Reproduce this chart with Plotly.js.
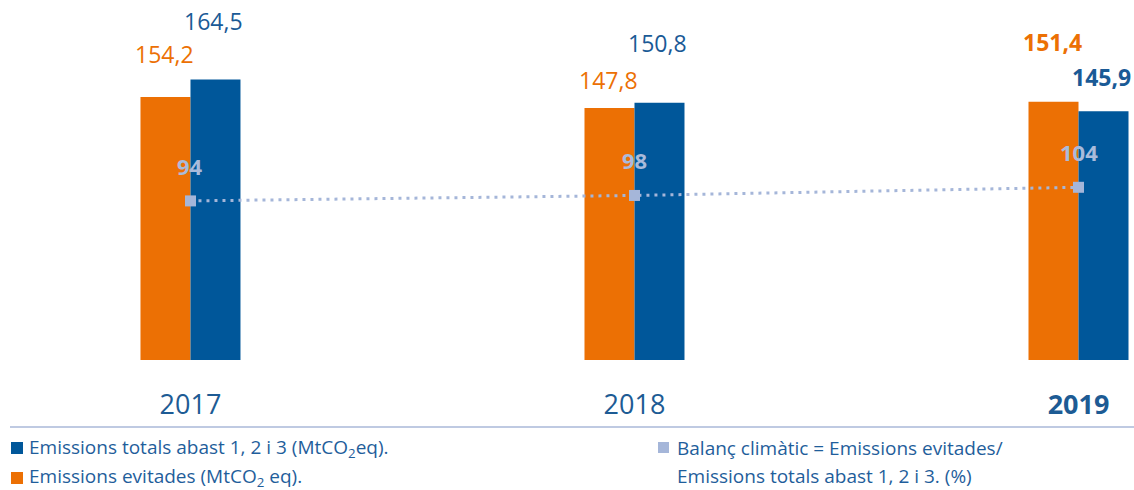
<!DOCTYPE html>
<html>
<head>
<meta charset="utf-8">
<script src="https://cdn.plot.ly/plotly-3.0.1.min.js"></script>
<style>html,body{margin:0;padding:0;background:#fff;}#chart{width:1134px;height:490px;}</style>
</head>
<body>
<div id="chart"></div>
<script>
// ---- data ----
var years = ['2017', '2018', '2019'];
var avoided = [154.2, 147.8, 151.4];        // Emissions evitades (MtCO2 eq)
var totals = [164.5, 150.8, 145.9];         // Emissions totals abast 1, 2 i 3
var balance = [94, 98, 104];                // Balanç climàtic (%)
var yearTickText = ['2017', '2018', '<b>2019</b>'];

// ---- style ----
var W = 1134, H = 490, PLOT_H = 360;
var ORANGE = '#ec7004', BLUE = '#00579a', LIGHT = '#a5b6d9', TEXTBLUE = '#1f5e9b';
var FONT = 'Open Sans, sans-serif';
var boldYear = [false, false, true];
var avoidedLabelShift = [43, 28, 60];
var totalLabelShift = [58, 60, 34];
var barW = 50 / 444;

function fmt(v) { return v.toFixed(1).replace('.', ','); }
function px(x) { return x / W; }
function py(y) { return (PLOT_H - y) / PLOT_H; }

var traces = [
  {
    type: 'bar', x: years, y: avoided, name: 'Emissions evitades',
    marker: { color: ORANGE }, width: barW, offset: -barW, hoverinfo: 'skip'
  },
  {
    type: 'bar', x: years, y: totals, name: 'Emissions totals',
    marker: { color: BLUE }, width: barW, offset: 0, hoverinfo: 'skip'
  },
  {
    type: 'scatter', mode: 'lines+markers', x: years, y: balance, yaxis: 'y2',
    name: 'Balanç climàtic', cliponaxis: false,
    line: { color: LIGHT, width: 3, dash: '3px,5px' },
    marker: { symbol: 'square', size: 11, color: LIGHT }, hoverinfo: 'skip'
  }
];

var annotations = [];
years.forEach(function (yr, i) {
  annotations.push({
    x: i, y: avoided[i], xref: 'x', yref: 'y', xshift: -26, yshift: avoidedLabelShift[i],
    text: boldYear[i] ? '<b>' + fmt(avoided[i]) + '</b>' : fmt(avoided[i]),
    showarrow: false, font: { family: FONT, size: 23, color: ORANGE }
  });
  annotations.push({
    x: i, y: totals[i], xref: 'x', yref: 'y', xshift: 23, yshift: totalLabelShift[i],
    text: boldYear[i] ? '<b>' + fmt(totals[i]) + '</b>' : fmt(totals[i]),
    showarrow: false, font: { family: FONT, size: 23, color: '#1a5a96' }
  });
  annotations.push({
    x: i, y: balance[i], xref: 'x', yref: 'y2', yshift: 35,
    text: '<b>' + balance[i] + '</b>',
    showarrow: false, font: { family: FONT, size: 22, color: '#a9bbdb' }
  });
});

// legend texts
var legendItems = [
  { x: 27, y: 448, text: 'Emissions totals abast 1, 2 i 3 (MtCO<sub>2</sub>eq).' },
  { x: 27, y: 477, text: 'Emissions evitades (MtCO<sub>2</sub> eq).' },
  { x: 675, y: 448, text: 'Balanç climàtic = Emissions evitades/' },
  { x: 675, y: 476, text: 'Emissions totals abast 1, 2 i 3. (%)' }
];
legendItems.forEach(function (it) {
  annotations.push({
    x: px(it.x), y: py(it.y), xref: 'paper', yref: 'paper', xanchor: 'left', yanchor: 'middle',
    text: it.text, showarrow: false, font: { family: FONT, size: 19, color: TEXTBLUE }
  });
});

var shapes = [
  { type: 'line', xref: 'paper', yref: 'paper', x0: px(10), x1: 1, y0: py(427), y1: py(427),
    line: { color: '#aab8d9', width: 1.5 } },
  { type: 'rect', xref: 'paper', yref: 'paper', x0: px(11), x1: px(23), y0: py(454), y1: py(442),
    fillcolor: BLUE, line: { width: 0 } },
  { type: 'rect', xref: 'paper', yref: 'paper', x0: px(11), x1: px(23), y0: py(484), y1: py(472),
    fillcolor: ORANGE, line: { width: 0 } },
  { type: 'rect', xref: 'paper', yref: 'paper', x0: px(658), x1: px(669), y0: py(453), y1: py(442),
    fillcolor: LIGHT, line: { width: 0 } }
];

var layout = {
  width: W, height: H,
  margin: { l: 0, r: 0, t: 0, b: H - PLOT_H, pad: 0 },
  paper_bgcolor: '#fff', plot_bgcolor: '#fff',
  showlegend: false,
  xaxis: {
    type: 'category', range: [-0.429, 2.125], showgrid: false, zeroline: false, showline: false,
    ticks: '', tickvals: years, ticktext: yearTickText, ticklabelstandoff: 26,
    tickfont: { family: FONT, size: 27, color: '#1d5b94' }, fixedrange: true
  },
  yaxis: { range: [0, 211.1], visible: false, fixedrange: true },
  yaxis2: { range: [-22.8, 241.5], overlaying: 'y', visible: false, fixedrange: true },
  annotations: annotations,
  shapes: shapes
};

Plotly.newPlot('chart', traces, layout, { displayModeBar: false, staticPlot: true });
</script>
</body>
</html>
